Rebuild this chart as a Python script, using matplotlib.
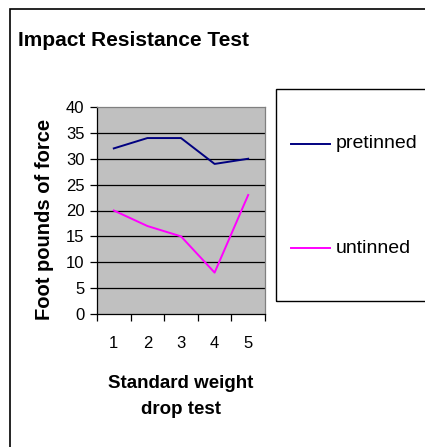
import numpy as np
import matplotlib
matplotlib.use("Agg")
import matplotlib.pyplot as plt
from matplotlib.patches import Rectangle
from matplotlib.lines import Line2D

plt.rcParams['font.family'] = ['Liberation Sans', 'DejaVu Sans']

# data
tests = [1, 2, 3, 4, 5]
pretinned = [32, 34, 34, 29, 30]
untinned = [20, 17, 15, 8, 23]
y_ticks = [0, 5, 10, 15, 20, 25, 30, 35, 40]

W, H = 425, 447
fig = plt.figure(figsize=(W / 100, H / 100), dpi=100)
fig.patch.set_facecolor('white')

def fx(px):
    return px / W

def fy(py):
    return 1 - py / H

# plot area
ax = fig.add_axes([fx(97), fy(314), fx(265) - fx(97), fy(107) - fy(314)])
ax.set_facecolor('#C0C0C0')
ax.plot(tests, pretinned, color='#000080', lw=1.4, label='pretinned')
ax.plot(tests, untinned, color='#FF00FF', lw=1.4, label='untinned')

ax.set_xlim(0.5, 5.5)
ax.set_ylim(0, 40)
ax.set_yticks(y_ticks)
ax.set_yticklabels([str(v) for v in y_ticks], fontsize=12)
for v in y_ticks[1:-1]:
    ax.axhline(v, color='black', lw=0.9, zorder=1)

# category axis: ticks between categories, labels centred
ax.set_xticks(np.arange(0.5, 6.0, 1.0))
ax.set_xticklabels([])
ax.set_xticks(tests, minor=True)
ax.set_xticklabels([str(t) for t in tests], minor=True, fontsize=12)
ax.tick_params(axis='x', which='minor', length=0, pad=16)
ax.tick_params(axis='x', which='major', length=5, direction='out', width=0.9)
ax.tick_params(axis='y', length=5, direction='out', width=0.9, pad=4)

for side in ['top', 'right']:
    ax.spines[side].set_color('#808080')
for side in ['left', 'bottom']:
    ax.spines[side].set_color('black')
for s in ax.spines.values():
    s.set_linewidth(0.9)

# text
fig.text(fx(18), fy(41), 'Impact Resistance Test', fontsize=15, fontweight='bold',
         ha='left', va='center')
fig.text(fx(45), fy(219), 'Foot pounds of force', fontsize=14.5, fontweight='bold',
         rotation=90, ha='center', va='center')
fig.text(fx(181), fy(383), 'Standard weight', fontsize=13.5, fontweight='bold',
         ha='center', va='center')
fig.text(fx(181), fy(410), 'drop test', fontsize=13.5, fontweight='bold',
         ha='center', va='center')

# outer chart border (right and bottom fall outside the image)
fig.patches.append(Rectangle((fx(10), fy(460)), 1.0, fy(9) - fy(460),
                             transform=fig.transFigure, fill=False,
                             edgecolor='black', lw=1.2))

# legend box
fig.patches.append(Rectangle((fx(276), fy(301)), 1.0, fy(89) - fy(301),
                             transform=fig.transFigure, fill=False,
                             edgecolor='black', lw=1.0))
for line, ypix in zip(ax.get_lines(), [144, 248]):
    fig.lines.append(Line2D([fx(291), fx(330)], [fy(ypix), fy(ypix)],
                            transform=fig.transFigure, color=line.get_color(), lw=1.4))
    fig.text(fx(336), fy(ypix), line.get_label(), fontsize=14, ha='left', va='center')

fig.savefig('out.png', dpi=100)
